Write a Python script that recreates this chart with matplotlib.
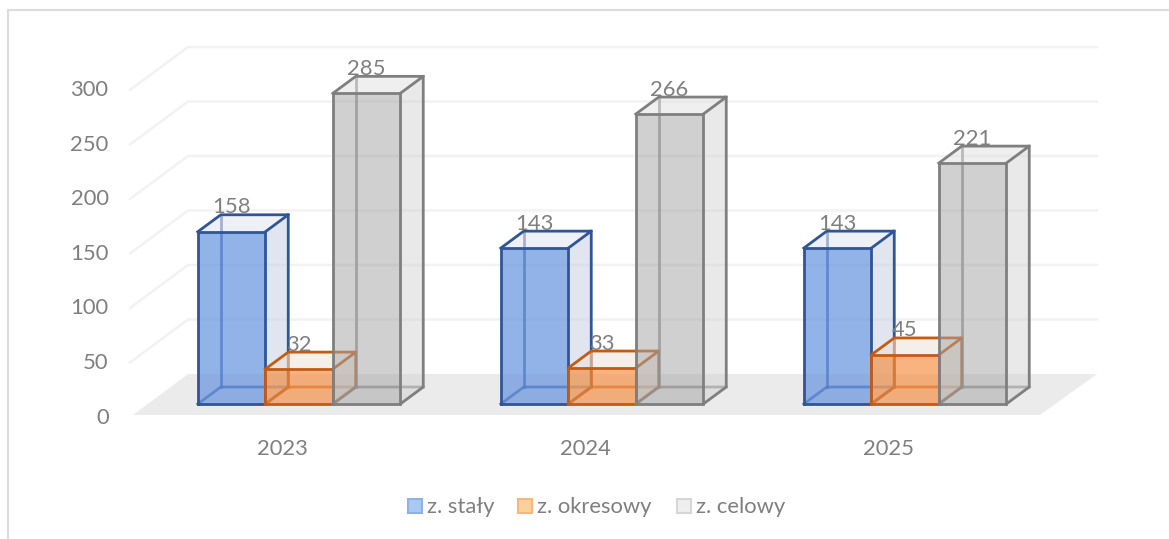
import matplotlib
matplotlib.use("Agg")
import matplotlib.pyplot as plt
from matplotlib.patches import Polygon, Rectangle

plt.rcParams['font.family'] = ['Lato', 'DejaVu Sans']

years = ["2023", "2024", "2025"]
z_staly = [158, 143, 143]
z_okresowy = [32, 33, 45]
z_celowy = [285, 266, 221]
series_names = ["z. stały", "z. okresowy", "z. celowy"]
y_ticks = [0, 50, 100, 150, 200, 250, 300]

W, H = 1169, 539
fig = plt.figure(figsize=(W / 100, H / 100), dpi=100)
ax = fig.add_axes([0, 0, 1, 1])

# pixel calibration: group 0 at x=299, step 303 px; value 0 at y=404, 1.09 px per unit
PX_X = 303.0
PX_Y = 1.09
ax.set_xlim((0 - 299) / PX_X, (W - 299) / PX_X)
ax.set_ylim((404 - H) / PX_Y, 404 / PX_Y)
ax.axis("off")

def xpx(p):
    return (p - 299) / PX_X

def ypx(p):
    return (404 - p) / PX_Y

dx = 23 / PX_X
dy = 17 / PX_Y
bar_w = 67.5 / PX_X
grey = "#7f7f7f"
fs = 15.8

# floor
floor = [(xpx(133), ypx(415)), (xpx(1040), ypx(415)), (xpx(1097), ypx(374)), (xpx(188), ypx(374))]
ax.add_patch(Polygon(floor, closed=True, fc="#ebebeb", ec="none", zorder=1))

# gridlines: back wall + left diagonal, tick labels sit below the value
for t in y_ticks:
    if t > 0:
        ax.plot([xpx(130), xpx(188), xpx(1097)],
                [t - 13 / PX_Y, t + 30 / PX_Y, t + 30 / PX_Y],
                color="#f2f2f2", lw=1.8, zorder=1)
    ax.text(xpx(108.5), t - 13.5 / PX_Y, str(t), ha="right", va="center", fontsize=fs, color=grey, zorder=100)

def draw_bar(x0, v, face, side, top, edge, z):
    x1 = x0 + bar_w
    # hidden edges seen through the faces
    ax.plot([x0 + dx, x0 + dx], [dy, v + dy], color=edge, lw=2, alpha=0.75, zorder=z)
    ax.plot([x0, x0 + dx, x1 + dx], [0, dy, dy], color=edge, lw=2, alpha=0.75, zorder=z)
    ax.add_patch(Polygon([(x1, 0), (x1 + dx, dy), (x1 + dx, v + dy), (x1, v)],
                         fc=side[0], alpha=side[1], ec="none", zorder=z))
    ax.add_patch(Polygon([(x0, v), (x1, v), (x1 + dx, v + dy), (x0 + dx, v + dy)],
                         fc=top[0], alpha=top[1], ec="none", zorder=z))
    ax.plot([x0, x0 + dx, x1 + dx, x1], [v, v + dy, v + dy, v], color=edge, lw=2, zorder=z + 0.1)
    ax.plot([x1 + dx, x1 + dx, x1], [v + dy, dy, 0], color=edge, lw=2, zorder=z + 0.1)
    ax.add_patch(Rectangle((x0, 0), bar_w, v, fc=face[0], alpha=face[1], ec="none", zorder=z + 0.2))
    ax.plot([x0, x1, x1, x0, x0], [0, 0, v, v, 0], color=edge, lw=2, zorder=z + 0.3, solid_joinstyle="miter")
    ax.text(x0 + bar_w / 2, v + 24.5 / PX_Y, str(v), ha="center", va="center",
            fontsize=fs, color=grey, zorder=100)

styles = [
    (("#5f8fde", 0.68), ("#c3cde3", 0.5), ("#dfe3ee", 0.5), "#2f5597"),
    (("#f58b3c", 0.65), ("#ead9cd", 0.6), ("#eee3da", 0.55), "#c55a11"),
    (("#a5a5a5", 0.52), ("#cfcfcf", 0.45), ("#dcdcdc", 0.45), grey),
]
series = [z_staly, z_okresowy, z_celowy]

for i, year in enumerate(years):
    left = i - 1.5 * bar_w
    for j, vals in enumerate(series):
        face, side, top, edge = styles[j]
        draw_bar(left + j * bar_w, vals[i], face, side, top, edge, 3 + j)
    ax.text(i - 16.5 / PX_X, ypx(449), year, ha="center", va="center", fontsize=fs, color=grey)

# legend
leg_x = [408, 518, 677]
leg_fc = ["#a9c8f5", "#fdd09a", "#eeeeee"]
leg_ec = ["#8fb2e6", "#f6b77e", "#d6d6d6"]
for x, name, fc, ec in zip(leg_x, series_names, leg_fc, leg_ec):
    ax.add_patch(Rectangle((xpx(x), ypx(513)), 14 / PX_X, 14 / PX_Y, fc=fc, ec=ec, lw=1.5, zorder=6))
    ax.text(xpx(x + 19), ypx(507), name, ha="left", va="center", fontsize=fs, color=grey)

# chart frame
ax.plot([xpx(8), xpx(8)], [ypx(539), ypx(10)], color="#dcdcdc", lw=1.5, zorder=0)
ax.plot([xpx(8), xpx(1169)], [ypx(10), ypx(10)], color="#dcdcdc", lw=1.5, zorder=0)

fig.savefig("out.png", dpi=100)
plt.close(fig)
